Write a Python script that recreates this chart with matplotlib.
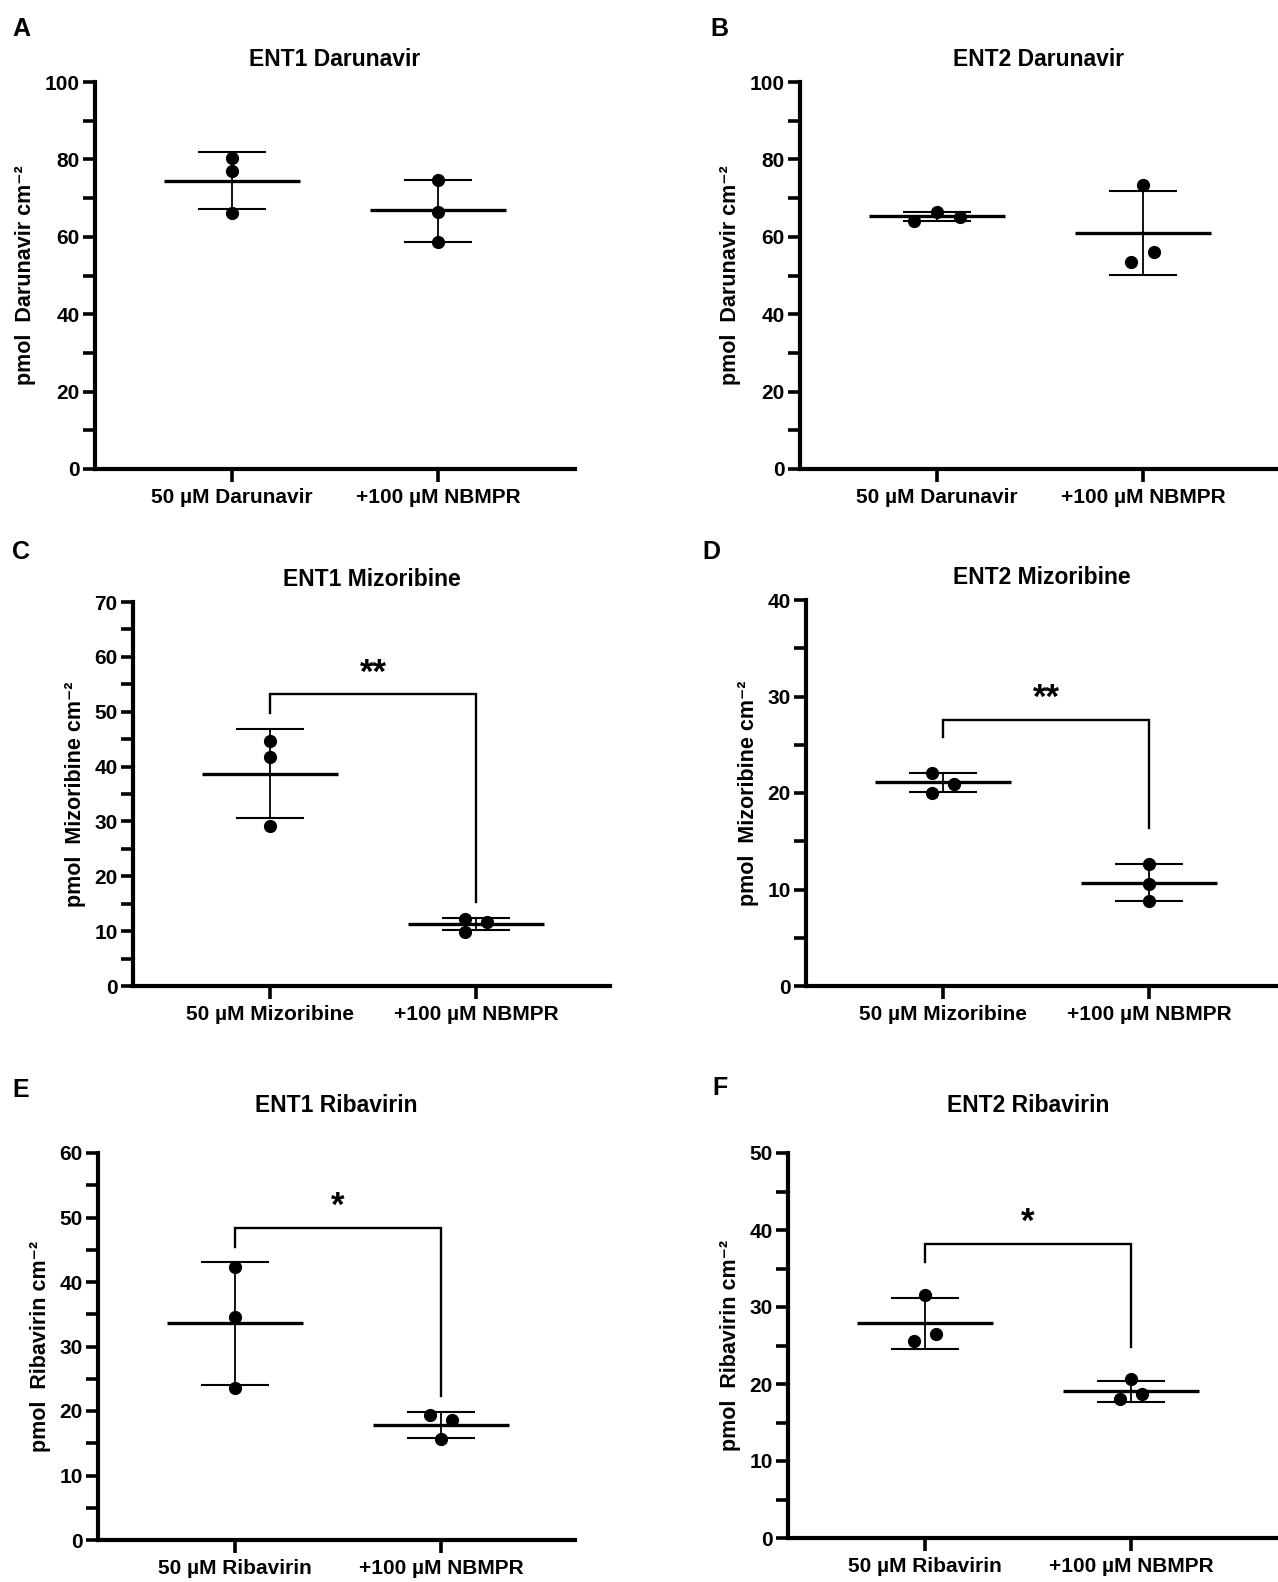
import numpy as np
import matplotlib

matplotlib.use("Agg")
import matplotlib.pyplot as plt
from matplotlib.ticker import MultipleLocator

plt.rcParams["font.family"] = ["Liberation Sans", "DejaVu Sans"]
plt.rcParams["font.weight"] = "bold"

W, H = 1278, 1582

# ---- data (points, x-jitter, mean, SD bar ends) ---------------------------
A_pts = [[80.3, 76.9, 66.1], [74.8, 66.5, 58.6]]
A_jit = [[0, 0, 0], [0, 0, 0]]
A_mean = [74.5, 66.8]
A_hi = [81.9, 74.8]
A_lo = [67.1, 58.7]

B_pts = [[64.0, 66.5, 65.2], [73.5, 53.6, 56.0]]
B_jit = [[-0.11, 0, 0.11], [0, -0.06, 0.055]]
B_mean = [65.4, 61.0]
B_hi = [66.5, 71.8]
B_lo = [64.1, 50.2]

C_pts = [[44.6, 41.8, 29.2], [12.3, 9.9, 11.6]]
C_jit = [[0, 0, 0], [-0.055, -0.055, 0.055]]
C_mean = [38.7, 11.3]
C_hi = [46.8, 12.4]
C_lo = [30.6, 10.2]

D_pts = [[22.1, 20.9, 20.0], [12.6, 10.6, 8.8]]
D_jit = [[-0.055, 0.055, -0.055], [0, 0, 0]]
D_mean = [21.1, 10.7]
D_hi = [22.1, 12.6]
D_lo = [20.1, 8.8]

E_pts = [[42.4, 34.5, 23.5], [19.4, 18.6, 15.6]]
E_jit = [[0, 0, 0], [-0.055, 0.055, 0]]
E_mean = [33.6, 17.8]
E_hi = [43.1, 19.9]
E_lo = [24.0, 15.8]

F_pts = [[31.6, 26.5, 25.6], [20.6, 18.7, 18.0]]
F_jit = [[0, 0.055, -0.055], [0, 0.055, -0.055]]
F_mean = [27.9, 19.1]
F_hi = [31.2, 20.4]
F_lo = [24.6, 17.7]

# significance brackets: (left start, top, right end, label)
C_sig = (49.7, 53.2, 15.4, "**")
D_sig = (25.8, 27.6, 16.4, "**")
E_sig = (45.5, 48.4, 22.3, "*")
F_sig = (35.9, 38.2, 24.8, "*")


def rect(l, r, t, b):
    return [l / W, 1 - b / H, (r - l) / W, (b - t) / H]


def panel(fig, box, letter, letter_xy, title, title_y, drug, ymax, major, minor,
          pts, jit, mean, hi, lo, sig=None):
    l, r, t, b = box
    ax = fig.add_axes(rect(l, r, t, b))
    unit = 206.0                       # px between the two categories
    ax.set_xlim(-0.665, -0.665 + (r - l) / unit)
    ax.set_ylim(0, ymax)
    for s in ("top", "right"):
        ax.spines[s].set_visible(False)
    for s in ("left", "bottom"):
        ax.spines[s].set_linewidth(3.0)
    ax.yaxis.set_major_locator(MultipleLocator(major))
    ax.yaxis.set_minor_locator(MultipleLocator(minor))
    ax.tick_params(axis="y", which="both", width=2.6, length=9, labelsize=15, pad=2)
    ax.tick_params(axis="x", width=2.6, length=9, labelsize=15, pad=5)
    ax.set_xticks([0, 1])
    ax.set_xticklabels([f"50 µM {drug}", "+100 µM NBMPR"], fontweight="bold")
    for lab in ax.get_yticklabels():
        lab.set_fontweight("bold")
    ax.set_ylabel(f"pmol  {drug} cm⁻²", fontsize=15.5, fontweight="bold", labelpad=6)

    for i in range(2):
        ax.hlines(mean[i], i - 0.33, i + 0.33, color="black", lw=2.4, zorder=3)
        ax.hlines([hi[i], lo[i]], i - 0.165, i + 0.165, color="black", lw=1.5, zorder=3)
        ax.vlines(i, lo[i], hi[i], color="black", lw=1.3, zorder=3)
        xs = np.array(jit[i]) + i
        ax.plot(xs, pts[i], "o", color="black", ms=8.5, zorder=4, clip_on=False)

    if sig is not None:
        y0, ytop, y1, txt = sig
        ax.plot([0, 0, 1, 1], [y0, ytop, ytop, y1], color="black", lw=1.7,
                solid_joinstyle="miter")
        ax.text(0.5, ytop + ymax * 0.012, txt, ha="center", va="bottom",
                fontsize=25, fontweight="bold")

    cx = (l + min(r, l + 2.33 * unit)) / 2 / W
    fig.text(cx, 1 - title_y / H, title, ha="center", va="center", fontsize=16.5,
             fontweight="bold")
    fig.text(letter_xy[0] / W, 1 - letter_xy[1] / H, letter, ha="left", va="center",
             fontsize=18, fontweight="bold")
    return ax


fig = plt.figure(figsize=(W / 100, H / 100), dpi=100)

panel(fig, (95, 575, 82, 469), "A", (12, 29), "ENT1 Darunavir", 60, "Darunavir",
      100, 20, 10, A_pts, A_jit, A_mean, A_hi, A_lo)
panel(fig, (800, 1278, 82, 469), "B", (710, 29), "ENT2 Darunavir", 60, "Darunavir",
      100, 20, 10, B_pts, B_jit, B_mean, B_hi, B_lo)
panel(fig, (133, 610, 602, 986), "C", (12, 552), "ENT1 Mizoribine", 579, "Mizoribine",
      70, 10, 5, C_pts, C_jit, C_mean, C_hi, C_lo, C_sig)
panel(fig, (806, 1278, 600, 986), "D", (702, 552), "ENT2 Mizoribine", 577, "Mizoribine",
      40, 10, 5, D_pts, D_jit, D_mean, D_hi, D_lo, D_sig)
panel(fig, (98, 575, 1153, 1540), "E", (12, 1090), "ENT1 Ribavirin", 1106, "Ribavirin",
      60, 10, 5, E_pts, E_jit, E_mean, E_hi, E_lo, E_sig)
panel(fig, (788, 1278, 1153, 1538), "F", (712, 1088), "ENT2 Ribavirin", 1106, "Ribavirin",
      50, 10, 5, F_pts, F_jit, F_mean, F_hi, F_lo, F_sig)

fig.savefig("out.png", dpi=100)
